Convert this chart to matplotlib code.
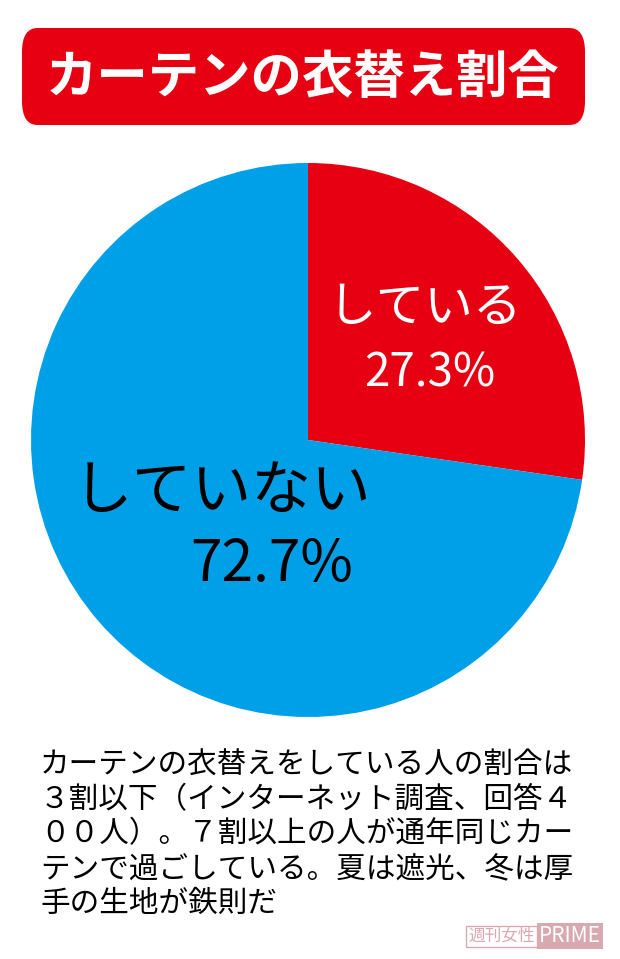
import matplotlib.pyplot as plt
from matplotlib.patches import FancyBboxPatch

plt.rcParams['font.family'] = ['Noto Sans CJK JP', 'DejaVu Sans']

labels = ['している', 'していない']
values = [27.3, 72.7]
colors = ['#e60012', '#00a0e9']
note = ['カーテンの衣替えをしている人の割合は',
        '３割以下（インターネット調査、回答４',
        '００人）。７割以上の人が通年同じカー',
        'テンで過ごしている。夏は遮光、冬は厚',
        '手の生地が鉄則だ']

W, H = 620, 959
fig = plt.figure(figsize=(W / 100, H / 100), dpi=100)

def fx(x):
    return x / W

def fy(y):
    return 1 - y / H

# title banner
box = FancyBboxPatch((fx(22), fy(125)), fx(563), 97 / H, boxstyle='round,pad=0,rounding_size=0.025',
                     transform=fig.transFigure, fc='#e60012', ec='none')
fig.patches.append(box)
fig.text(fx(303), fy(77), 'カーテンの衣替え割合', color='white', fontsize=37,
         fontweight='bold', ha='center', va='center')

# pie
cx, cy, r = 308, 440, 277
ax = fig.add_axes([fx(cx - r), fy(cy + r), 2 * r / W, 2 * r / H])
ax.pie(values, colors=colors, startangle=90, counterclock=False,
       wedgeprops=dict(linewidth=0))
ax.set_xlim(-1, 1)
ax.set_ylim(-1, 1)
ax.axis('off')

fig.text(fx(425), fy(308), labels[0], color='white', fontsize=35, ha='center', va='center')
fig.text(fx(430), fy(373), f'{values[0]}%', color='white', fontsize=33, ha='center', va='center')
fig.text(fx(222), fy(492), labels[1], color='black', fontsize=43, ha='center', va='center')
fig.text(fx(272), fy(565), f'{values[1]}%', color='black', fontsize=41, ha='center', va='center')

for i, line in enumerate(note):
    fig.text(fx(40), fy(765 + 34.5 * i), line, fontsize=21.3, ha='left', va='center')

fig.text(fx(468), fy(936), '週刊女性', fontsize=12, color='#d9a9b0', ha='left', va='center',
         bbox=dict(fc='white', ec='#d9a9b0', pad=1.5))
fig.text(fx(539), fy(936), 'PRIME', fontsize=15, color='white', ha='left', va='center',
         bbox=dict(fc='#d9a9b0', ec='none', pad=1.5))

fig.savefig('out.png', dpi=100)
